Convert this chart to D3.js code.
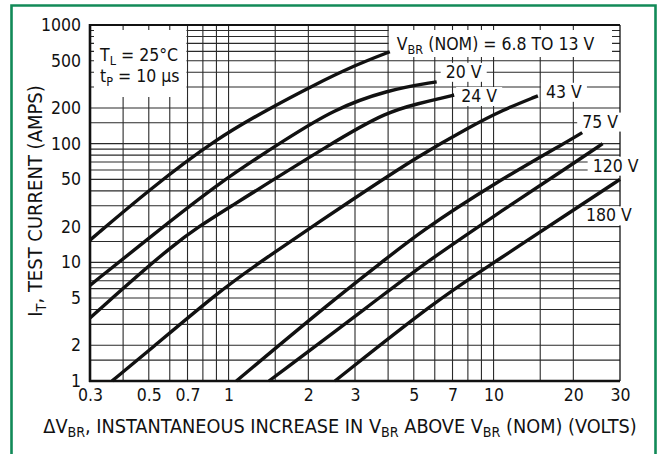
<!DOCTYPE html>
<html lang="en">
<head>
<meta charset="UTF-8">
<title>Test current vs instantaneous increase in VBR</title>
<style>
  body { margin: 0; background: #fff; }
  svg text { font-family: 'Liberation Sans Narrow', 'Arial Narrow', 'DejaVu Sans Condensed', sans-serif; fill: #111; }
</style>
</head>
<body>
<div id="chart-container"></div>
<script src="https://d3js.org/d3.v7.min.js"></script>
<script>
// data (ΔVBR in volts, IT in amps)
const seriesNames = ["6.8 TO 13 V", "20 V", "24 V", "43 V", "75 V", "120 V", "180 V"];
const dv_13 = [0.3, 0.5, 0.9, 1.47, 2.03, 3, 4.06];
const it_13 = [15.4, 40.7, 111, 205, 300, 459, 595];
const dv_20 = [0.3, 0.49, 0.93, 1.7, 2.47, 3.95, 6.1];
const it_20 = [6.4, 15.4, 48, 114, 192, 283, 332];
const dv_24 = [0.3, 0.64, 0.93, 2.55, 3.95, 5.3, 6.3, 7.1];
const it_24 = [3.4, 15.4, 26, 107, 185, 220, 241, 257];
const dv_43 = [0.363, 0.5, 0.93, 1.35, 3, 5.27, 8.16, 10.8, 14.7];
const it_43 = [1, 1.8, 5.8, 10.5, 35, 80, 139, 192, 253];
const dv_75 = [1.07, 2.48, 3.83, 5.27, 10, 19.4, 21.6];
const it_75 = [1, 4.8, 10.2, 18, 46, 107, 124];
const dv_120 = [1.42, 3.62, 5.27, 10, 20, 25.8];
const it_120 = [1, 4.8, 9.2, 24.5, 68, 100];
const dv_180 = [2.52, 6.1, 10, 20, 30];
const it_180 = [1, 4.8, 9.9, 27.6, 50];

const xTicks = [0.3, 0.5, 0.7, 1, 2, 3, 5, 7, 10, 20, 30];
const yTicks = [1, 2, 5, 10, 20, 50, 100, 200, 500, 1000];
const xGrid = [0.4, 0.5, 0.6, 0.7, 0.8, 0.9, 1, 1.5, 2, 3, 4, 5, 6, 7, 8, 9, 10, 15, 20];
const yGrid = [1.5, 2, 3, 4, 5, 6, 7, 8, 9, 10, 15, 20, 30, 40, 50, 60, 70, 80, 90,
               100, 150, 200, 300, 400, 500, 600, 700, 800, 900];

const allX = [dv_13, dv_20, dv_24, dv_43, dv_75, dv_120, dv_180];
const allY = [it_13, it_20, it_24, it_43, it_75, it_120, it_180];

const W = 660, H = 454;
const svg = d3.select("#chart-container").append("svg")
  .attr("width", W).attr("height", H);

svg.append("rect").attr("width", W).attr("height", H).attr("fill", "#fff");

// green frame
svg.append("path")
  .attr("d", "M11.5,460 V5.5 H655.5 V460")
  .attr("fill", "none").attr("stroke", "#128a58").attr("stroke-width", 2.6);

const x = d3.scaleLog().domain([0.3, 30]).range([90, 620]);
const y = d3.scaleLog().domain([1, 1000]).range([381, 25]);

// grid
const grid = svg.append("g").attr("stroke", "#2a2a2a").attr("stroke-width", 1.1);
grid.selectAll(".vx").data(xGrid).enter().append("line")
  .attr("x1", d => x(d)).attr("x2", d => x(d))
  .attr("y1", y(1)).attr("y2", y(1000));
grid.selectAll(".hy").data(yGrid).enter().append("line")
  .attr("y1", d => y(d)).attr("y2", d => y(d))
  .attr("x1", x(0.3)).attr("x2", x(30));

// top and right borders
svg.append("line").attr("x1", x(0.3)).attr("x2", x(30)).attr("y1", y(1000)).attr("y2", y(1000))
  .attr("stroke", "#111").attr("stroke-width", 2);
svg.append("line").attr("x1", x(30)).attr("x2", x(30)).attr("y1", y(1000)).attr("y2", y(1))
  .attr("stroke", "#111").attr("stroke-width", 1.3);

const boxes = svg.append("g");
const texts = svg.append("g");

// text with subscripts: parts = [[string, isSub], ...]
function addText(px, py, parts, size) {
  const t = texts.append("text").attr("x", px).attr("y", py).style("font-size", size + "px");
  let wasSub = false;
  parts.forEach(p => {
    const s = t.append("tspan").text(p[0]);
    if (p[1]) { s.style("font-size", (size * 0.72) + "px").attr("dy", size * 0.22); wasSub = true; }
    else if (wasSub) { s.attr("dy", -size * 0.22); wasSub = false; }
  });
  return t;
}
function whiteBox(x0, y0, x1, y1) {
  boxes.append("rect").attr("x", x0).attr("y", y0)
    .attr("width", x1 - x0).attr("height", y1 - y0).attr("fill", "#fff");
}

// conditions box (top left)
const c1 = addText(100, 61, [["T", 0], ["L", 1], [" = 25°C", 0]], 17.5);
const c2 = addText(100, 82, [["t", 0], ["P", 1], [" = 10 µs", 0]], 17.5);
{
  const b1 = c1.node().getBBox(), b2 = c2.node().getBBox();
  whiteBox(x(0.3) + 4, y(1000) + 5, Math.max(b1.x + b1.width, b2.x + b2.width) + 7, 97);
}

// curve labels placed relative to each curve's end point
const labelOffsets = [[7, -2], [9, -4], [7, 7], [8, 2], [0, -5], [-10, 28], [-34, 42]];
seriesNames.forEach((name, i) => {
  const xs = allX[i], ys = allY[i];
  const ex = x(xs[xs.length - 1]), ey = y(ys[ys.length - 1]);
  const px = ex + labelOffsets[i][0], py = ey + labelOffsets[i][1];
  if (i === 0) {
    const t = addText(px, py, [["V", 0], ["BR", 1], [" (NOM) = " + name, 0]], 17.5);
    const b = t.node().getBBox();
    whiteBox(b.x - 8, y(1000) + 5, x(30) - 8, 57);
  } else {
    const t = addText(px, py, [[name, 0]], 17.5);
    const b = t.node().getBBox();
    whiteBox(b.x - 5, b.y + 1, b.x + b.width + 5, b.y + b.height);
  }
});

// left and bottom axis lines
svg.append("line").attr("x1", x(0.3)).attr("x2", x(0.3)).attr("y1", y(1000) - 1).attr("y2", y(1) + 1)
  .attr("stroke", "#111").attr("stroke-width", 2.6);
svg.append("line").attr("x1", x(0.3) - 1).attr("x2", x(30)).attr("y1", y(1)).attr("y2", y(1))
  .attr("stroke", "#111").attr("stroke-width", 2.6);

// curves
const line = d3.line().curve(d3.curveBasis);
allX.forEach((xs, i) => {
  const pts = xs.map((v, j) => [x(v), y(allY[i][j])]);
  svg.append("path").attr("d", line(pts))
    .attr("fill", "none").attr("stroke", "#111").attr("stroke-width", 3.4);
});

// tick labels
const fmt = d3.format("~g");
const xAxis = svg.append("g").attr("transform", "translate(0," + y(1) + ")")
  .call(d3.axisBottom(x).tickValues(xTicks).tickFormat(fmt).tickSize(0).tickPadding(8));
const yAxis = svg.append("g").attr("transform", "translate(" + x(0.3) + ",0)")
  .call(d3.axisLeft(y).tickValues(yTicks).tickFormat(fmt).tickSize(0).tickPadding(9));
[xAxis, yAxis].forEach(a => {
  a.select(".domain").remove();
  a.attr("font-family", null).attr("font-size", null);
  a.selectAll("text").style("font-size", "17.5px").attr("fill", "#111");
});

// axis titles
addText(340, 433, [["ΔV", 0], ["BR", 1], [", INSTANTANEOUS INCREASE IN V", 0], ["BR", 1],
  [" ABOVE V", 0], ["BR", 1], [" (NOM) (VOLTS)", 0]], 19.7).attr("text-anchor", "middle");
addText(0, 0, [["I", 0], ["T", 1], [", TEST CURRENT (AMPS)", 0]], 20)
  .attr("text-anchor", "middle").attr("transform", "translate(42,201) rotate(-90)");
</script>
</body>
</html>
